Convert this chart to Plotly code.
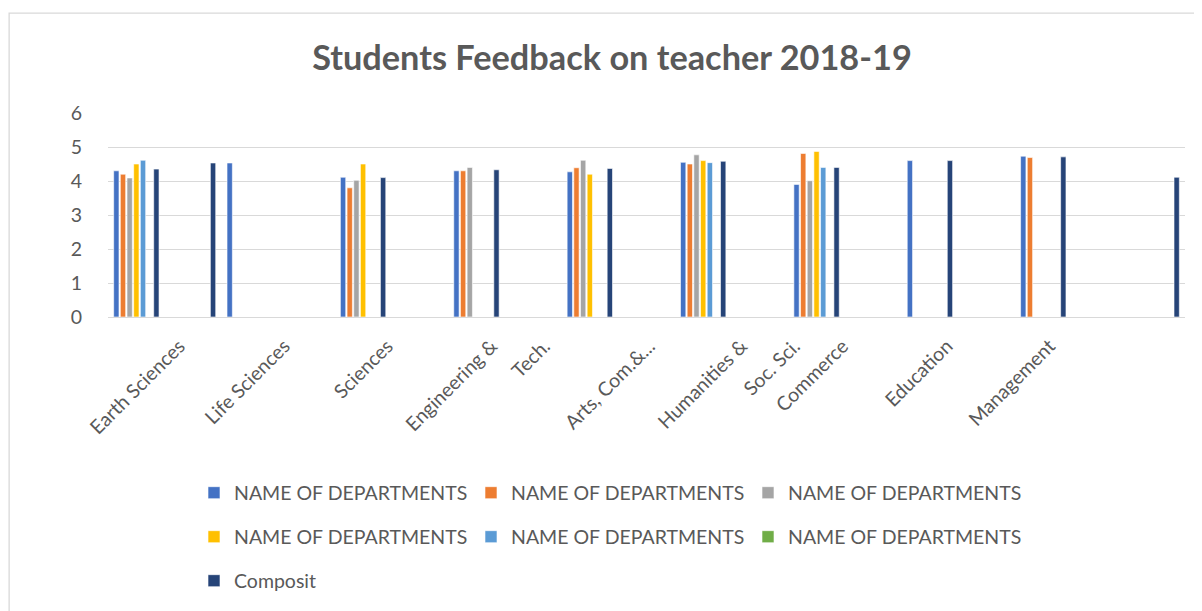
import plotly.graph_objects as go

# ── Data ─────────────────────────────────────────────────────────────────────
categories = list(range(1, 20))  # 19 rows in the sheet, several left empty

dept_1 = [4.30, None, 4.53, None, 4.11, None, 4.30, None, 4.27, None, 4.55, None, 3.90, None, 4.60, None, 4.73, None, None]
dept_2 = [4.20, None, None, None, 3.80, None, 4.30, None, 4.39, None, 4.50, None, 4.81, None, None, None, 4.69, None, None]
dept_3 = [4.09, None, None, None, 4.02, None, 4.40, None, 4.61, None, 4.77, None, 4.01, None, None, None, None, None, None]
dept_4 = [4.50, None, None, None, 4.50, None, None, None, 4.20, None, 4.60, None, 4.87, None, None, None, None, None, None]
dept_5 = [4.61, None, None, None, None, None, None, None, None, None, 4.54, None, 4.40, None, None, None, None, None, None]
dept_6 = [None] * 19
composit = [4.35, 4.53, None, None, 4.10, None, 4.33, None, 4.37, None, 4.58, None, 4.40, None, 4.60, None, 4.71, None, 4.11]

tick_labels = ["Earth Sciences", "Life Sciences", "Sciences", "Engineering &", "Tech.",
               "Arts, Com.&...", "Humanities &", "Soc. Sci.", "Commerce", "Education", "Management"]
tick_pos = [1.76, 3.61, 5.43, 7.27, 8.2, 10.05, 11.68, 12.61, 13.46, 15.3, 17.11]

series_names = ["NAME OF DEPARTMENTS"] * 6 + ["Composit"]
series_values = [dept_1, dept_2, dept_3, dept_4, dept_5, dept_6, composit]
colors = ["#4472C4", "#ED7D31", "#A5A5A5", "#FFC000", "#5B9BD5", "#70AD47", "#264478"]
legend_ids = ["legend", "legend", "legend", "legend2", "legend2", "legend2", "legend3"]

GREY = "#595959"
FONT = "Lato"

fig = go.Figure()
for i, (name, vals, col, lg) in enumerate(zip(series_names, series_values, colors, legend_ids)):
    fig.add_trace(go.Bar(
        x=categories, y=vals, name=name,
        marker=dict(color=col, line=dict(color="white", width=0.6)),
        offsetgroup=str(i),
        legend=lg,
    ))

# page body adds an 8px margin, so figure coords = screen coords - 8
W, H = 1202, 611
plot_l, plot_r, plot_t, plot_b = 99.6, 1177, 105, 309.3


def legend_cfg(row_y):
    return dict(
        orientation="h", xref="container", yref="container",
        x=186 / W, y=1 - row_y / H, xanchor="left", yanchor="middle",
        font=dict(family=FONT, size=19.5, color=GREY),
        entrywidth=232, entrywidthmode="pixels",
        bgcolor="rgba(0,0,0,0)", itemclick=False,
    )


fig.update_layout(
    width=W, height=H,
    margin=dict(l=plot_l, r=W - plot_r, t=plot_t, b=H - plot_b, autoexpand=False),
    paper_bgcolor="white", plot_bgcolor="white",
    barmode="group", bargap=0.176, bargroupgap=0.2,
    title=dict(
        text="<b>Students Feedback on teacher 2018-19</b>",
        font=dict(family=FONT, size=34.3, color=GREY),
        xref="container", yref="container",
        x=604 / W, y=1 - 50 / H, xanchor="center", yanchor="middle",
    ),
    xaxis=dict(
        range=[0.5, 19.5], tickmode="array", tickvals=tick_pos, ticktext=tick_labels,
        tickangle=-45, showgrid=False, zeroline=False,
        showline=False, ticks="", ticklabelstandoff=13,
        tickfont=dict(family=FONT, size=19.5, color=GREY),
    ),
    yaxis=dict(
        range=[0, 6], dtick=1, showgrid=True, gridcolor="#D9D9D9", gridwidth=1.3,
        zeroline=True, zerolinecolor="#D9D9D9", zerolinewidth=1.3,
        ticks="", ticklabelstandoff=25,
        tickfont=dict(family=FONT, size=19.5, color=GREY),
    ),
    legend=legend_cfg(485),
    legend2=legend_cfg(529),
    legend3=legend_cfg(573),
    showlegend=True,
    shapes=[dict(
        type="rect", xref="paper", yref="paper",
        x0=(0.7 - plot_l) / (plot_r - plot_l), x1=1.3,
        y0=-2.5, y1=(plot_b - 5) / (plot_b - plot_t),
        line=dict(color="#D9D9D9", width=1.3), fillcolor="rgba(0,0,0,0)", layer="below",
    )],
)

fig.write_html("out.html")
